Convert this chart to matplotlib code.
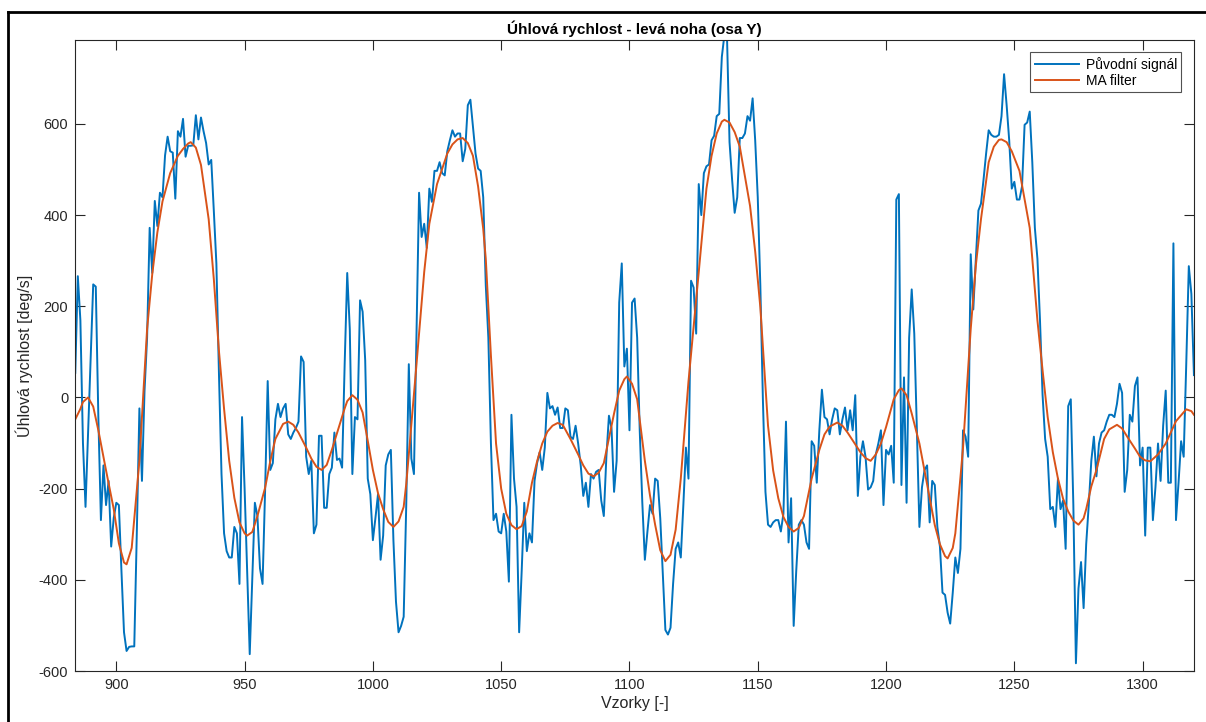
import numpy as np
import matplotlib
matplotlib.use("Agg")
import matplotlib.pyplot as plt
from matplotlib.lines import Line2D

plt.rcParams['font.family'] = ['Liberation Sans', 'DejaVu Sans']
plt.rcParams['axes.unicode_minus'] = False

# raw gyro samples, one per sample index starting at first_sample
first_sample = 884
raw_signal = [
    54, 266, 169, -100, -240, -77, 85, 248, 243, -43,
    -269, -149, -236, -183, -327, -264, -231, -236, -380, -515,
    -556, -547, -546, -546, -294, -24, -183, 15, 131, 372,
    273, 431, 376, 449, 439, 531, 572, 540, 537, 436,
    584, 572, 611, 528, 552, 552, 553, 619, 566, 614,
    584, 558, 511, 521, 410, 294, 53, -168, -298, -337,
    -351, -351, -284, -298, -409, -43, -200, -380, -563, -400,
    -231, -260, -375, -409, -202, 36, -159, -144, -48, -14,
    -43, -24, -14, -81, -91, -77, -67, -53, 90, 78,
    -130, -168, -139, -298, -279, -84, -84, -242, -242, -168,
    -154, -77, -137, -134, -154, 73, 273, 150, -168, -43,
    -48, 213, 188, 82, -178, -212, -313, -264, -212, -356,
    -303, -149, -125, -115, -313, -448, -515, -501, -481, -236,
    73, -134, -168, 140, 449, 352, 381, 328, 458, 429,
    497, 497, 516, 492, 487, 540, 564, 586, 572, 579,
    579, 518, 545, 641, 653, 593, 535, 502, 497, 439,
    246, 131, -100, -269, -255, -294, -298, -255, -294, -404,
    -38, -178, -240, -515, -380, -231, -337, -298, -318, -183,
    -144, -120, -159, -110, 10, -24, -19, -38, -22, -67,
    -67, -24, -28, -86, -91, -62, -101, -149, -216, -187,
    -240, -168, -178, -163, -159, -226, -260, -130, -40, -67,
    -207, -139, 208, 294, 68, 107, -72, 208, 217, 131,
    -72, -230, -356, -294, -236, -255, -178, -183, -265, -390,
    -510, -520, -505, -409, -332, -318, -351, -236, -110, -178,
    256, 241, 140, 468, 400, 492, 507, 511, 564, 574,
    617, 622, 747, 795, 795, 560, 478, 405, 439, 569,
    569, 579, 617, 607, 656, 564, 439, 246, -4, -207,
    -279, -284, -274, -269, -269, -294, -255, -53, -318, -221,
    -501, -380, -279, -269, -279, -318, -332, -96, -106, -187,
    -72, 17, -43, -48, -81, -48, -24, -28, -81, -48,
    -22, -72, -28, -72, 5, -216, -130, -96, -130, -202,
    -197, -183, -125, -101, -72, -236, -115, -125, -106, -187,
    434, 446, -192, 44, -231, 131, 237, 140, -67, -284,
    -197, -159, -149, -274, -183, -192, -284, -327, -428, -433,
    -472, -496, -428, -351, -385, -332, -72, -86, -130, 314,
    193, 304, 410, 425, 478, 535, 586, 576, 572, 572,
    576, 617, 709, 641, 564, 458, 473, 434, 434, 463,
    598, 603, 627, 516, 372, 304, 169, 6, -91, -130,
    -245, -240, -284, -178, -245, -226, -332, -19, -4, -236,
    -583, -419, -361, -462, -322, -236, -139, -86, -173, -101,
    -77, -72, -53, -38, -38, -43, -14, 30, 10, -207,
    -159, -38, -53, 25, 44, -149, -110, -303, -110, -110,
    -269, -197, -101, -183, -62, 15, -187, -187, 338, -269,
    -187, -96, -130, 73, 288, 227, 49,
]

ma_samples = [
    884, 886, 887, 889, 891, 893, 896, 899, 901, 903, 904, 906, 909, 912,
    914, 916, 918, 921, 924, 926, 928, 929, 931, 933, 936, 938, 940, 942,
    944, 946, 948, 950, 951, 953, 955, 958, 960, 962, 965, 967, 969, 971,
    974, 976, 978, 980, 982, 984, 987, 989, 990, 992, 994, 996, 998, 1000,
    1002, 1004, 1006, 1008, 1010, 1012, 1013, 1014, 1017, 1020, 1022, 1025,
    1029, 1031, 1033, 1035, 1037, 1039, 1041, 1043, 1044, 1046, 1048, 1050,
    1052, 1054, 1056, 1058, 1060, 1062, 1064, 1066, 1068, 1070, 1072, 1074,
    1077, 1080, 1082, 1084, 1086, 1088, 1090, 1092, 1094, 1096, 1098, 1099,
    1101, 1103, 1106, 1108, 1110, 1112, 1114, 1116, 1118, 1120, 1123, 1127,
    1130, 1132, 1134, 1136, 1137, 1139, 1141, 1143, 1147, 1149, 1151, 1154,
    1156, 1158, 1160, 1162, 1164, 1166, 1168, 1171, 1174, 1176, 1178, 1181,
    1183, 1185, 1188, 1190, 1192, 1194, 1196, 1198, 1200, 1203, 1205, 1206,
    1208, 1210, 1213, 1217, 1219, 1221, 1223, 1224, 1226, 1227, 1229, 1230,
    1233, 1235, 1237, 1240, 1242, 1244, 1245, 1247, 1249, 1252, 1256, 1259,
    1261, 1263, 1265, 1267, 1269, 1271, 1273, 1275, 1277, 1278, 1280, 1282,
    1285, 1287, 1290, 1292, 1294, 1297, 1299, 1301, 1303, 1306, 1309, 1313,
    1317, 1319, 1320,
]
ma_values = [
    -48, -25, -10, 0, -20, -72, -160, -245, -320, -362, -366, -330, -139, 150,
    270, 362, 430, 492, 530, 545, 557, 560, 548, 510, 391, 260, 102, -25,
    -139, -220, -274, -298, -303, -295, -260, -198, -140, -91, -58, -53, -60, -77,
    -110, -134, -152, -159, -148, -115, -60, -24, -8, 5, -5, -33, -95, -159,
    -210, -245, -273, -284, -272, -240, -190, -125, 73, 275, 381, 468,
    535, 555, 566, 569, 558, 530, 463, 370, 304, 92, -101, -200,
    -255, -280, -289, -282, -250, -187, -140, -101, -75, -62, -56, -60,
    -91, -125, -149, -167, -173, -165, -144, -90, -35, 15, 40, 46,
    30, -4, -139, -215, -279, -335, -359, -345, -290, -178, 35, 275,
    458, 530, 579, 605, 609, 603, 582, 550, 420, 320, 198, -62,
    -160, -221, -262, -284, -294, -286, -260, -178, -115, -81, -64, -55,
    -62, -77, -103, -120, -133, -139, -125, -101, -65, -4, 16, 20,
    5, -35, -101, -221, -280, -322, -348, -353, -330, -298, -175, -110,
    150, 290, 391, 516, 550, 565, 566, 560, 540, 497, 372, 169,
    60, -43, -120, -178, -222, -250, -270, -279, -265, -245, -195, -159,
    -91, -70, -60, -68, -86, -112, -130, -138, -140, -125, -101, -52,
    -26, -30, -38,
]

x_ticks = [900, 950, 1000, 1050, 1100, 1150, 1200, 1250, 1300]
y_ticks = [-600, -400, -200, 0, 200, 400, 600]

axis_grey = '#262626'

fig = plt.figure(figsize=(12.06, 7.22), dpi=100)
ax = fig.add_axes([0.0624, 0.0706, 0.9276, 0.874])

samples = np.arange(first_sample, first_sample + len(raw_signal))
ax.plot(samples, raw_signal, color='#0072BD', lw=1.4, label='Původní signál')
ax.plot(ma_samples, ma_values, color='#D95319', lw=1.4, label='MA filter')

ax.set_xlim(884, 1320)
ax.set_ylim(-600, 784)
ax.set_xticks(x_ticks)
ax.set_yticks(y_ticks)
ax.tick_params(direction='in', top=True, right=True, length=7, width=0.8,
               color=axis_grey, labelcolor=axis_grey, labelsize=10.5, pad=5)
for sp in ax.spines.values():
    sp.set_color(axis_grey)
    sp.set_linewidth(0.8)

ax.set_title('Úhlová rychlost - levá noha (osa Y)', fontweight='bold',
             fontsize=11, pad=4)
ax.set_xlabel('Vzorky [-]', fontsize=11.5, color=axis_grey, labelpad=3)
ax.set_ylabel('Úhlová rychlost [deg/s]', fontsize=11.5, color=axis_grey,
              labelpad=4)

leg = ax.legend(loc='upper right', fontsize=10, handlelength=3.2,
                fancybox=False, borderaxespad=0.9, borderpad=0.3,
                labelspacing=0.15, handletextpad=0.5)
leg.get_frame().set_edgecolor(axis_grey)
leg.get_frame().set_linewidth(0.8)

# window frame of the screenshot
fig.add_artist(Line2D([8 / 1206, 8 / 1206], [0, 1 - 12 / 722],
                      transform=fig.transFigure, color='black', lw=2))
fig.add_artist(Line2D([8 / 1206, 1], [1 - 12 / 722, 1 - 12 / 722],
                      transform=fig.transFigure, color='black', lw=2))

fig.savefig('out.png', dpi=100)
